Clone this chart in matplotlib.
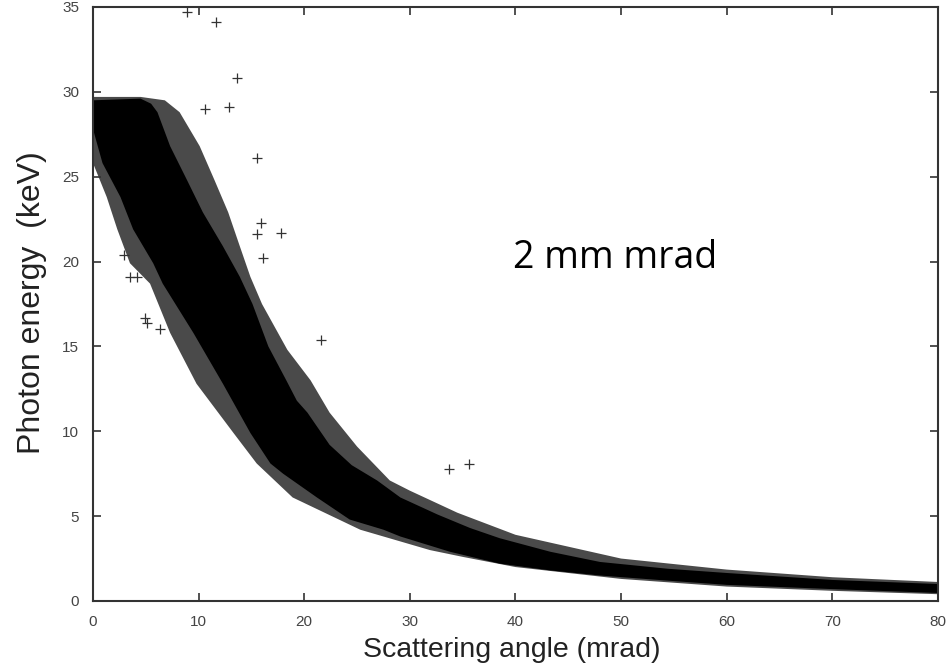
import numpy as np
import matplotlib
matplotlib.use("Agg")
import matplotlib.pyplot as plt

# bande dense (noyau) : bord haut puis bord bas (angle mrad, energie keV)
core_up_angle = [0, 4.5, 5.5, 6.1, 7.3, 8.9, 10.4, 12.3, 13.9, 15.1, 16.6, 18.3, 19.3, 20.3, 22.4,
                 24.5, 26.9, 29.1, 32.6, 35.7, 38.5, 43.3, 48.0, 54.4, 60.0, 70.0, 80.0]
core_up_energy = [29.5, 29.6, 29.3, 28.8, 26.8, 24.8, 22.9, 20.9, 19.1, 17.5, 15.0, 13.0, 11.8, 11.1, 9.2,
                  8.0, 7.1, 6.1, 5.1, 4.3, 3.7, 2.9, 2.3, 1.9, 1.65, 1.24, 1.0]
core_lo_angle = [0, 0.9, 2.6, 3.8, 5.7, 6.6, 9.5, 12.3, 14.9, 16.8, 18.0, 21.2, 24.3, 27.5, 29.1,
                 33.8, 38.5, 43.3, 48.0, 54.4, 60.0, 70.0, 80.0]
core_lo_energy = [27.8, 25.8, 23.8, 21.9, 19.9, 18.7, 15.8, 12.8, 9.9, 8.1, 7.5, 6.1, 4.8, 4.2, 3.8,
                  2.9, 2.2, 1.8, 1.5, 1.2, 0.95, 0.7, 0.47]

# frange clairsemee autour du noyau
fringe_up_angle = [0, 4.5, 6.8, 8.2, 10.1, 11.5, 12.8, 13.9, 14.9, 16.0, 18.4, 20.6, 22.4, 25.0,
                   28.1, 30.0, 34.5, 40.0, 50.0, 60.0, 70.0, 80.0]
fringe_up_energy = [29.7, 29.7, 29.5, 28.8, 26.8, 24.8, 22.9, 20.9, 19.1, 17.5, 14.8, 13.0, 11.1, 9.1,
                    7.1, 6.5, 5.2, 3.9, 2.5, 1.85, 1.4, 1.12]
fringe_lo_angle = [0, 1.3, 2.3, 3.5, 5.4, 7.3, 9.8, 13.3, 15.5, 18.9, 25.3, 31.9, 35.0, 40.0,
                   50.0, 60.0, 70.0, 80.0]
fringe_lo_energy = [25.8, 23.8, 21.9, 19.9, 18.7, 15.8, 12.8, 9.9, 8.1, 6.1, 4.2, 3.0, 2.6, 2.0,
                    1.3, 0.85, 0.6, 0.4]

# points isoles
out_angle = [8.9, 11.6, 13.6, 10.6, 12.9, 15.5, 15.9, 15.5, 17.8, 16.1, 21.6, 33.7, 35.6,
             2.9, 3.5, 4.2, 4.9, 5.1, 6.3]
out_energy = [34.7, 34.1, 30.8, 29.0, 29.1, 26.1, 22.3, 21.6, 21.7, 20.2, 15.4, 7.8, 8.1,
              20.4, 19.1, 19.1, 16.7, 16.4, 16.0]

x_ticks = [0, 10, 20, 30, 40, 50, 60, 70, 80]
y_ticks = [0, 5, 10, 15, 20, 25, 30, 35]

fig = plt.figure(figsize=(9.51, 6.70), dpi=100)
ax = fig.add_axes([0.0978, 0.103, 0.8885, 0.8866])


def polygone(ax_, up_x, up_y, lo_x, lo_y, **kw):
    # contour : bord haut de gauche a droite, puis bord bas de droite a gauche
    xs = np.concatenate([up_x, lo_x[::-1]])
    ys = np.concatenate([up_y, lo_y[::-1]])
    ax_.fill(xs, ys, **kw)


polygone(ax, fringe_up_angle, fringe_up_energy, fringe_lo_angle, fringe_lo_energy,
         color="#4a4a4a", lw=0)
polygone(ax, core_up_angle, core_up_energy, core_lo_angle, core_lo_energy,
         color="black", lw=0)
ax.scatter(out_angle, out_energy, marker="+", s=55, color="#333333", linewidths=0.9)

ax.set_xlim(0, 80)
ax.set_ylim(0, 35)
ax.set_xticks(x_ticks)
ax.set_yticks(y_ticks)
ax.tick_params(axis="both", direction="in", top=True, right=True, length=6, width=1.2,
               color="#333333", labelsize=11, labelcolor="#444444")
ax.tick_params(axis="x", pad=10)
ax.tick_params(axis="y", pad=10)
for s in ax.spines.values():
    s.set_color("#333333")
    s.set_linewidth(1.5)
for lab in ax.get_xticklabels() + ax.get_yticklabels():
    lab.set_family("Liberation Sans")

ax.set_xlabel("Scattering angle (mrad)", fontsize=20.5, family="Liberation Sans",
              color="#222222", va="center")
ax.xaxis.set_label_coords(0.495, -0.083)
ax.set_ylabel("Photon energy  (keV)", fontsize=23, family="Liberation Sans",
              color="#222222", va="center")
ax.yaxis.set_label_coords(-0.072, 0.503)

ax.text(0.497, 0.577, "2 mm mrad", transform=ax.transAxes, fontsize=27, family="Open Sans",
        color="black", ha="left", va="center")

fig.savefig("out.png", dpi=100)
